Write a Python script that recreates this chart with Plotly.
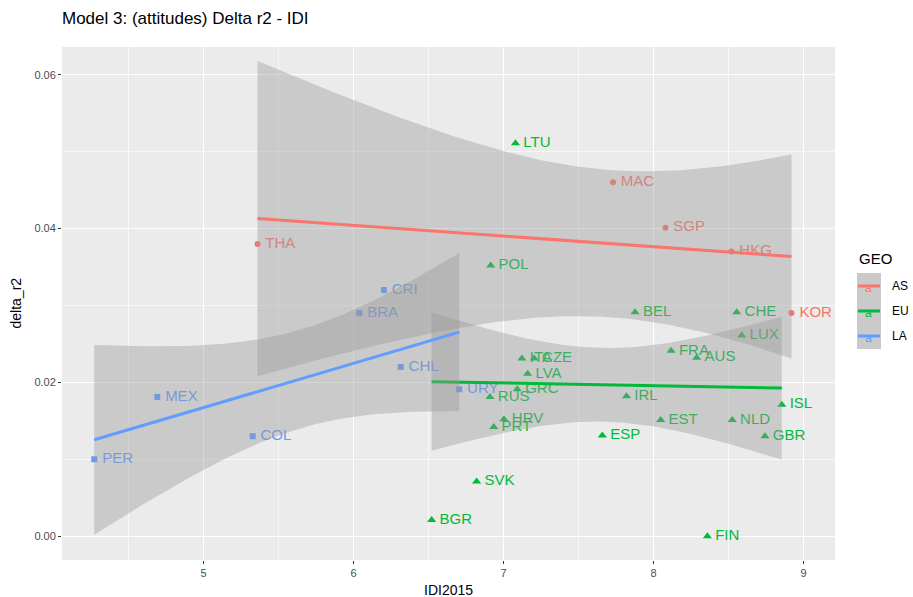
import numpy as np
import plotly.graph_objects as go

# ---- data ----
as_names = ["THA", "MAC", "SGP", "HKG", "KOR"]
as_idi = [5.36, 7.73, 8.08, 8.52, 8.92]
as_delta = [0.0380, 0.0460, 0.0401, 0.0370, 0.0290]

eu_names = ["LTU", "POL", "BEL", "CHE", "LUX", "FRA", "AUS", "IRL", "ISL", "EST", "NLD",
            "GBR", "ESP", "ITA", "CZE", "LVA", "GRC", "RUS", "HRV", "PRT", "SVK", "BGR", "FIN"]
eu_idi = [7.08, 6.915, 7.877, 8.555, 8.588, 8.117, 8.288, 7.82, 8.855, 8.048, 8.525,
          8.743, 7.659, 7.123, 7.205, 7.161, 7.092, 6.91, 7.003, 6.935, 6.821, 6.521, 8.359]
eu_delta = [0.0511, 0.0352, 0.0291, 0.0291, 0.0261, 0.0241, 0.0232, 0.0182, 0.0171, 0.0151, 0.0151,
            0.0130, 0.0131, 0.0231, 0.0231, 0.0211, 0.0191, 0.0181, 0.0152, 0.0142, 0.0071, 0.0021, 0.0000]

la_names = ["CRI", "BRA", "CHL", "MEX", "COL", "PER", "URY"]
la_idi = [6.203, 6.039, 6.315, 4.692, 5.328, 4.272, 6.705]
la_delta = [0.0320, 0.0290, 0.0220, 0.0181, 0.0130, 0.0100, 0.0191]

groups = ["AS", "EU", "LA"]
colors = {"AS": "#F8766D", "EU": "#00BA38", "LA": "#619CFF"}
symbols = {"AS": "circle", "EU": "triangle-up", "LA": "square"}
msize = {"AS": 6, "EU": 8, "LA": 6}
# 97.5% Student t quantiles for n-2 degrees of freedom (n = 5, 23, 7)
t_quant = {"AS": 3.182446, "EU": 2.079614, "LA": 2.570582}

data = {
    "AS": (as_names, as_idi, as_delta),
    "EU": (eu_names, eu_idi, eu_delta),
    "LA": (la_names, la_idi, la_delta),
}

x_ticks = [5, 6, 7, 8, 9]
y_ticks = [0.00, 0.02, 0.04, 0.06]


def lm_band(x, y, t):
    x = np.asarray(x, float)
    y = np.asarray(y, float)
    n = len(x)
    xb = x.mean()
    sxx = ((x - xb) ** 2).sum()
    b = ((x - xb) * (y - y.mean())).sum() / sxx
    a = y.mean() - b * xb
    res = y - (a + b * x)
    s2 = (res ** 2).sum() / (n - 2)
    xs = np.linspace(x.min(), x.max(), 80)
    fit = a + b * xs
    se = np.sqrt(s2 * (1.0 / n + (xs - xb) ** 2 / sxx))
    return xs, fit, fit - t * se, fit + t * se


fig = go.Figure()
FONT = "Liberation Sans, Arial, sans-serif"

# points + labels first (drawn under the smooth ribbons, as in ggplot)
for g in groups:
    names, xs, ys = data[g]
    fig.add_trace(go.Scatter(
        x=xs, y=ys, mode="markers",
        marker=dict(symbol=symbols[g], size=msize[g], color=colors[g], line=dict(width=0)),
        hoverinfo="skip", showlegend=False))
    fig.add_trace(go.Scatter(
        x=xs, y=ys, mode="markers+text", text=names, textposition="middle right",
        textfont=dict(family=FONT, size=15, color=colors[g]),
        marker=dict(size=11, color="rgba(0,0,0,0)"),
        hoverinfo="skip", showlegend=False, cliponaxis=False))

# smooth: ribbon then line, per group
for g in groups:
    names, xs, ys = data[g]
    gx, fit, lo, hi = lm_band(xs, ys, t_quant[g])
    fig.add_trace(go.Scatter(
        x=np.concatenate([gx, gx[::-1]]), y=np.concatenate([hi, lo[::-1]]),
        fill="toself", fillcolor="rgba(153,153,153,0.4)", line=dict(width=0),
        mode="lines", hoverinfo="skip", showlegend=False))
    fig.add_trace(go.Scatter(
        x=gx, y=fit, mode="lines", line=dict(color=colors[g], width=3),
        hoverinfo="skip", showlegend=False))

W, H = 913, 597
L, R, T, B = 62, 78, 47, 37
pw, ph = W - L - R, H - T - B


def px(x):
    return (x - L) / pw


def py(y):
    return (H - B - y) / ph


shapes = []
annotations = []
# legend (manual, ggplot-style)
annotations.append(dict(x=px(857), y=py(258), xref="paper", yref="paper", text="GEO",
                        showarrow=False, xanchor="left", yanchor="middle",
                        font=dict(family=FONT, size=15, color="black")))
shapes.append(dict(type="rect", xref="paper", yref="paper", x0=px(857), x1=px(881),
                   y0=py(349), y1=py(273), fillcolor="#CACACA", line=dict(width=0), layer="above"))
rows = {"AS": 286, "EU": 311, "LA": 336}
for g in groups:
    yy = rows[g]
    shapes.append(dict(type="line", xref="paper", yref="paper", x0=px(858), x1=px(880),
                       y0=py(yy), y1=py(yy), line=dict(color=colors[g], width=3), layer="above"))
    annotations.append(dict(x=px(869), y=py(yy + 2), xref="paper", yref="paper", text="a",
                            showarrow=False, xanchor="center", yanchor="middle",
                            font=dict(family=FONT, size=12, color=colors[g])))
    annotations.append(dict(x=px(890), y=py(yy), xref="paper", yref="paper", text=g,
                            showarrow=False, xanchor="left", yanchor="middle",
                            font=dict(family=FONT, size=12, color="black")))

# axis titles
annotations.append(dict(x=0.5, y=py(590), xref="paper", yref="paper", text="IDI2015",
                        showarrow=False, xanchor="center", yanchor="middle",
                        font=dict(family=FONT, size=14, color="black")))
annotations.append(dict(x=px(15), y=0.5, xref="paper", yref="paper", text="delta_r2",
                        showarrow=False, xanchor="center", yanchor="middle", textangle=-90,
                        font=dict(family=FONT, size=14, color="black")))

fig.update_layout(
    width=W, height=H,
    margin=dict(l=L, r=R, t=T, b=B),
    paper_bgcolor="white", plot_bgcolor="#EBEBEB",
    title=dict(text="Model 3: (attitudes) Delta r2 - IDI", x=L / W, xanchor="left",
               y=1 - 18 / H, yanchor="middle", xref="container", yref="container",
               font=dict(family=FONT, size=17, color="black")),
    showlegend=False,
    shapes=shapes, annotations=annotations,
    font=dict(family=FONT),
)
fig.update_xaxes(range=[4.057, 9.21], tickvals=x_ticks, ticktext=[str(v) for v in x_ticks],
                 showgrid=True, gridcolor="white", gridwidth=1.2, zeroline=False,
                 ticks="outside", ticklen=3, tickcolor="#333333", tickwidth=1,
                 tickfont=dict(family=FONT, size=11, color="#4D4D4D"),
                 minor=dict(tickvals=[4.5, 5.5, 6.5, 7.5, 8.5], showgrid=True, gridcolor="white", gridwidth=0.6),
                 showline=False)
fig.update_yaxes(range=[-0.0031, 0.0636], tickvals=y_ticks, ticktext=["%.2f" % v for v in y_ticks],
                 showgrid=True, gridcolor="white", gridwidth=1.2, zeroline=False,
                 ticks="outside", ticklen=3, tickcolor="#333333", tickwidth=1,
                 tickfont=dict(family=FONT, size=11, color="#4D4D4D"),
                 minor=dict(tickvals=[0.01, 0.03, 0.05], showgrid=True, gridcolor="white", gridwidth=0.6),
                 showline=False)

fig.write_html("out.html", config={"displayModeBar": False, "staticPlot": True},
               post_script="document.body.style.margin='0';document.body.style.overflow='hidden';")
